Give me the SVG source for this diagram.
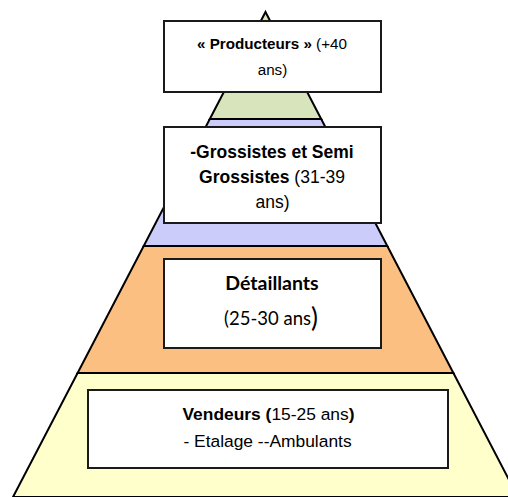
<svg xmlns="http://www.w3.org/2000/svg" width="508" height="497" viewBox="0 0 508 497">
<style>
.band{stroke:#000;stroke-width:2;stroke-linejoin:miter}
.box{fill:#fff;stroke:#1a1a1a;stroke-width:2}
.t{font-family:"Liberation Sans",Arial,sans-serif;fill:#000;text-anchor:middle}
.c{font-family:Lato,"Liberation Sans",sans-serif;fill:#000;text-anchor:middle}
.b{font-weight:bold}
</style>
<rect width="508" height="497" fill="#fff"/>
<g id="pyramid">
<polygon class="band" points="265.5,12 321.2,119 209.8,119" fill="#d7e4bc"/>
<polygon class="band" points="209.8,119 321.2,119 387.3,246 143.7,246" fill="#ccccfb"/>
<polygon class="band" points="143.7,246 387.3,246 453.4,373 77.6,373" fill="#fcbf82"/>
<polygon class="band" points="77.6,373 453.4,373 518,497 13,497" fill="#ffffcc"/>
</g>
<g id="producteurs">
<rect class="box" x="164" y="21" width="217" height="71"/>
<text class="t" x="272" y="48.5" font-size="15.2"><tspan class="b">« Producteurs »</tspan> (+40</text>
<text class="t" x="272.5" y="75" font-size="15.2">ans)</text>
</g>
<g id="grossistes">
<rect class="box" x="164" y="127" width="217" height="96"/>
<text class="t b" x="272" y="157.5" font-size="17.5">-Grossistes et Semi</text>
<text class="t" x="272" y="183" font-size="17.5"><tspan class="b">Grossistes</tspan> (31-39</text>
<text class="t" x="272.5" y="208" font-size="17.5">ans)</text>
</g>
<g id="detaillants">
<rect class="box" x="164" y="259" width="217" height="89"/>
<text class="c b" x="272" y="290" font-size="19.5">Détaillants</text>
<text class="c" x="271" y="325" font-size="18.5">(25-30 ans<tspan font-size="26" dy="2">)</tspan></text>
</g>
<g id="vendeurs">
<rect class="box" x="88" y="390" width="360" height="78"/>
<text class="t" x="268.5" y="420" font-size="17.4"><tspan class="b">Vendeurs (</tspan>15-25 ans<tspan class="b">)</tspan></text>
<text class="t" x="267.5" y="447" font-size="17.4">- Etalage --Ambulants</text>
</g>
</svg>
